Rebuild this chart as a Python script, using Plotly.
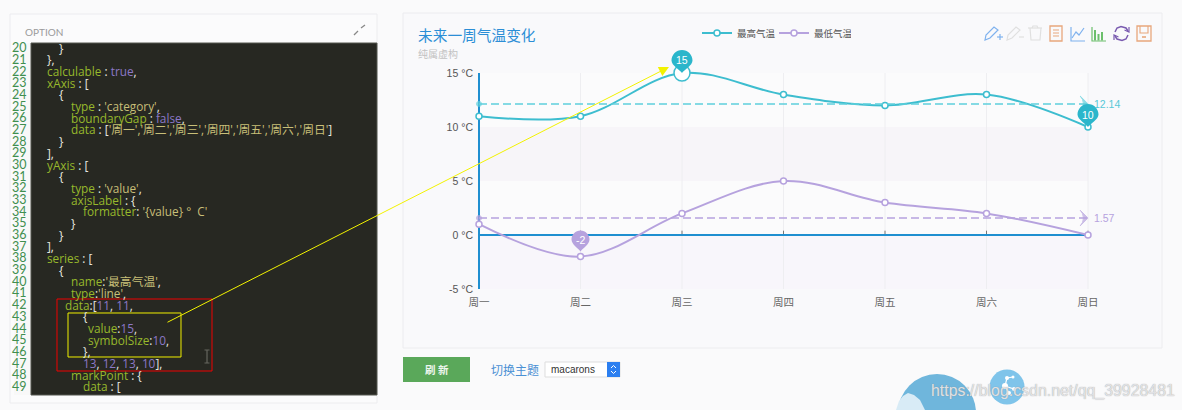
import plotly.graph_objects as go

# dados do grafico
dias = ["周一", "周二", "周三", "周四", "周五", "周六", "周日"]
maxima = [11, 11, 15, 13, 12, 13, 10]
minima = [1, -2, 2, 5, 3, 2, 0]
media_max = 12.14
media_min = 1.57
y_ticks = [-5, 0, 5, 10, 15]

# editor de codigo a esquerda: numero da linha, pedacos (tipo, texto)
code_nums = list(range(20, 50))
code_rows = [
    [("p", "}")],
    [("p", "},")],
    [("k", "calculable"), ("p", " : "), ("n", "true"), ("p", ",")],
    [("k", "xAxis"), ("p", " : [")],
    [("p", "{")],
    [("k", "type"), ("p", " : "), ("s", "'category'"), ("p", ",")],
    [("k", "boundaryGap"), ("p", " : "), ("n", "false"), ("p", ",")],
    [("k", "data"), ("p", " : ["), ("s", "'周一','周二','周三','周四','周五','周六','周日'"), ("p", "]")],
    [("p", "}")],
    [("p", "],")],
    [("k", "yAxis"), ("p", " : [")],
    [("p", "{")],
    [("k", "type"), ("p", " : "), ("s", "'value'"), ("p", ",")],
    [("k", "axisLabel"), ("p", " : {")],
    [("k", "formatter"), ("p", ": "), ("s", "'{value} °  C'")],
    [("p", "}")],
    [("p", "}")],
    [("p", "],")],
    [("k", "series"), ("p", " : [")],
    [("p", "{")],
    [("k", "name"), ("p", ":"), ("s", "'最高气温'"), ("p", ",")],
    [("k", "type"), ("p", ":"), ("s", "'line'"), ("p", ",")],
    [("k", "data"), ("p", ":["), ("n", "11"), ("p", ", "), ("n", "11"), ("p", ",")],
    [("p", "{")],
    [("k", "value"), ("p", ":"), ("n", "15"), ("p", ",")],
    [("k", "symbolSize"), ("p", ":"), ("n", "10"), ("p", ",")],
    [("p", "},")],
    [("n", "13"), ("p", ", "), ("n", "12"), ("p", ", "), ("n", "13"), ("p", ", "), ("n", "10"), ("p", "],")],
    [("k", "markPoint"), ("p", " : {")],
    [("k", "data"), ("p", " : [")],
]
code_x = [58, 46, 46, 46, 58, 70, 70, 70, 58, 46, 46, 58, 70, 70, 82, 70, 58, 46, 46, 58,
          70, 70, 64, 82, 87, 87, 82, 82, 70, 82]
code_cores = {"k": "#97b82c", "s": "#c8bf78", "n": "#8c78c8", "p": "#e8e8e0"}

W, H = 1182, 410
X0, X1 = 479, 1088
Y0, Y1 = 73, 289
PAD_X, PAD_Y = 5, 10  # folga para os marcadores nao serem cortados
TEAL = "#3dbdcf"
TEAL_PIN = "#2bb6cb"
ROXO = "#b6a2de"
AZUL = "#1f8fd0"
CJK = "Noto Sans CJK SC"
passo_x = (X1 - X0) / (len(dias) - 1)
passo_y = (Y1 - Y0) / (y_ticks[-1] - y_ticks[0])


def px(x):
    return x / W


def py(y):
    return 1 - y / H


shapes = []
annots = []


def retangulo(x0, y0, x1, y1, fill="rgba(0,0,0,0)", line="rgba(0,0,0,0)", lw=1):
    shapes.append(dict(type="rect", xref="paper", yref="paper", x0=px(x0), x1=px(x1), y0=py(y0), y1=py(y1),
                       fillcolor=fill, line=dict(color=line, width=lw), layer="below"))


def circulo(cx, cy, r, fill="rgba(0,0,0,0)", line="rgba(0,0,0,0)", lw=1, layer="above"):
    shapes.append(dict(type="circle", xref="paper", yref="paper", x0=px(cx - r), x1=px(cx + r), y0=py(cy - r),
                       y1=py(cy + r), fillcolor=fill, line=dict(color=line, width=lw), layer=layer))


def traco(pontos, cor, lw=1.2, fechado=False, fill="rgba(0,0,0,0)", layer="above"):
    p = "M" + " L".join(f"{px(x):.5f},{py(y):.5f}" for x, y in pontos)
    if fechado:
        p += " Z"
    shapes.append(dict(type="path", xref="paper", yref="paper", path=p, fillcolor=fill,
                       line=dict(color=cor, width=lw), layer=layer))


def texto(x, y, t, cor, size, anchor="left", family=CJK, **kw):
    annots.append(dict(xref="paper", yref="paper", x=px(x), y=py(y), text=t, showarrow=False, xanchor=anchor,
                       yanchor="middle", font=dict(color=cor, size=size, family=family), borderpad=0, **kw))


def pino(i, valor, r, base, alt, cor):
    # marcador em forma de gota, em pixels a partir do ponto
    # ancorado em paper para nao ser cortado pela area do grafico
    ax = px(X0 + passo_x * i)
    ay = py(Y1 - passo_y * (valor - y_ticks[0]))
    k = r * 0.5523
    h = base + alt
    caminho = (f"M0,{base} C2,{base + 3} {r},{h - 5} {r},{h} C{r},{h + k} {k},{h + r} 0,{h + r} "
               f"C{-k},{h + r} {-r},{h + k} {-r},{h} C{-r},{h - 5} -2,{base + 3} 0,{base} Z")
    shapes.append(dict(type="path", xref="paper", yref="paper", xsizemode="pixel", ysizemode="pixel", xanchor=ax,
                       yanchor=ay, path=caminho, fillcolor=cor, line=dict(width=0), layer="above"))
    annots.append(dict(xref="paper", yref="paper", x=ax, y=ay, text=str(valor), showarrow=False, yshift=h,
                       xanchor="center", yanchor="middle",
                       font=dict(color="white", size=10.5, family="Liberation Sans")))


# paineis de fundo
retangulo(10, 14, 377, 403, "#fbfbfc", "#ececef")
retangulo(14, 43, 31, 395, "#f8f8f8")
retangulo(31, 43, 377, 395, "#272822", "#55564f")
retangulo(403, 13, 1162, 348, "#f9f9fb", "#ececef")

# editor
texto(24, 32, "OPTION", "#9a9a9a", 10, family="Lato")
traco([(354, 35), (358, 31)], "#888", 1.3)
traco([(361, 28), (365, 25)], "#888", 1.3)
for n, linha, x in zip(code_nums, code_rows, code_x):
    y = 47.7 + 11.68 * (n - 20)
    texto(28, y, str(n), "#3f8f4f", 12.5, anchor="right", family="Lato")
    partes = "".join(f'<span style="color:{code_cores[t]}">{s}</span>' for t, s in linha)
    texto(x, y, partes, "#fff", 11.8, family="Open Sans, " + CJK)

# caixas e seta desenhadas por cima do editor
traco([(57, 299), (212, 299), (212, 371), (57, 371)], "#f00000", 1, True)
traco([(68, 313), (181, 313), (181, 357), (68, 357)], "#f0f000", 1, True)
traco([(207, 350), (207, 363)], "#66665f", 1.2)
traco([(204.5, 350), (209.5, 350)], "#66665f", 1)
traco([(204.5, 363), (209.5, 363)], "#66665f", 1)
annots.append(dict(xref="paper", yref="paper", x=px(669), y=py(67), axref="pixel", ayref="pixel", ax=166 - 669,
                   ay=323 - 67, text="", showarrow=True, arrowcolor="#f2f200", arrowwidth=1, arrowhead=2,
                   arrowsize=2))

# titulos
texto(417, 35, "未来一周气温变化", "#2b8ed6", 14.7)
texto(417, 53, "纯属虚构", "#c2c2c2", 10)

# faixas alternadas, grade e eixos
faixas = ["#f8f6fb", "#fbfbfc", "#f7f5f9", "#fbfbfc"]
for i, cor in enumerate(faixas):
    shapes.append(dict(type="rect", xref="x", yref="y", x0=dias[0], x1=dias[-1], y0=y_ticks[i], y1=y_ticks[i + 1],
                       fillcolor=cor, line=dict(width=0), layer="below"))
for d in dias[1:]:
    shapes.append(dict(type="line", xref="x", yref="y", x0=d, x1=d, y0=y_ticks[0], y1=y_ticks[-1],
                       line=dict(color="#eeeef1", width=1), layer="below"))
    shapes.append(dict(type="line", xref="x", yref="y", x0=d, x1=d, y0=0, y1=0.4,
                       line=dict(color="#777", width=1), layer="below"))
shapes.append(dict(type="line", xref="x", yref="y", x0=dias[0], x1=dias[0], y0=y_ticks[0], y1=y_ticks[-1],
                   line=dict(color=AZUL, width=2), layer="below"))
shapes.append(dict(type="line", xref="x", yref="y", x0=dias[0], x1=dias[-1], y0=0, y1=0,
                   line=dict(color=AZUL, width=2), layer="below"))

pino(2, maxima[2], 10.5, 0, 12.5, TEAL_PIN)
pino(6, maxima[6], 10.5, 0, 12.5, TEAL_PIN)
pino(1, minima[1], 9, 5, 12, ROXO)

# barra de ferramentas
AZ_ICO, CINZA, LAR, VERDE, LILAS = "#7fb2ee", "#e0e0e0", "#e8a77c", "#6cbf6c", "#7a5bb0"
traco([(985, 40), (986, 35), (994, 27), (998, 30), (990, 38)], AZ_ICO, 1.2, True)
traco([(997, 37), (1003, 37)], AZ_ICO, 1.2)
traco([(1000, 34), (1000, 40)], AZ_ICO, 1.2)
traco([(1007, 40), (1008, 35), (1016, 27), (1020, 30), (1012, 38)], CINZA, 1.2, True)
traco([(1019, 37), (1024, 37)], CINZA, 1.2)
traco([(1028, 28), (1042, 28)], CINZA, 1.2)
traco([(1032, 28), (1033, 26), (1037, 26), (1038, 28)], CINZA, 1.2)
traco([(1030, 28), (1031, 40), (1040, 40), (1041, 28)], CINZA, 1.2)
traco([(1050, 26), (1062, 26), (1062, 41), (1050, 41)], LAR, 1.3, True)
for y in [30, 33, 36]:
    traco([(1053, y), (1059, y)], LAR, 1)
traco([(1071, 27), (1071, 41), (1085, 41)], AZ_ICO, 1.2)
traco([(1072, 38), (1076, 32), (1079, 35), (1084, 28)], AZ_ICO, 1.2)
traco([(1092, 27), (1092, 41), (1106, 41)], VERDE, 1.2)
for x, y in [(1095, 30), (1098.5, 34), (1102, 32)]:
    retangulo(x - 1, y, x + 1, 40.5, VERDE)
    shapes[-1]["layer"] = "above"
traco([(1115, 32), (1117, 28), (1121, 26.5), (1126, 28), (1128, 31)], LILAS, 1.5)
traco([(1128, 35), (1126, 39), (1122, 40.5), (1117, 39), (1115, 36)], LILAS, 1.5)
traco([(1124.5, 30), (1129, 32), (1129, 27)], LILAS, 1.2)
traco([(1118.5, 37), (1114, 35), (1114, 40)], LILAS, 1.2)
traco([(1137, 26), (1151, 26), (1151, 41), (1137, 41)], LAR, 1.3, True)
traco([(1140, 26), (1140, 33), (1148, 33), (1148, 26)], LAR, 1.1)
traco([(1142, 37), (1146, 37)], LAR, 1.6)

# controles abaixo do grafico
retangulo(403, 357, 470, 382, "#5aa85a")
texto(436.5, 369, "<b>刷 新</b>", "#eef6ee", 10.5, anchor="center")
texto(490, 369, "切换主题", "#4a90d4", 12)
retangulo(545, 362, 620, 377, "#ffffff", "#dddddd")
retangulo(607, 362, 620, 377, "#2c7ff0")
texto(550, 369.5, "macarons", "#333", 10, family="Liberation Sans")
traco([(611, 368), (613.5, 365.5), (616, 368)], "#ffffff", 1)
traco([(611, 371), (613.5, 373.5), (616, 371)], "#ffffff", 1)

# bolhas do canto inferior
circulo(937, 413, 39, "#6fb6dc", layer="below")
traco([(899, 401), (903, 396), (908, 393), (914, 395), (920, 400), (925, 410), (896, 410)], "#d8ebf6", 0, True,
      "#d8ebf6", layer="below")
circulo(1007, 387, 17.5, "#7fc4ea", layer="below")
traco([(1007, 378), (1005, 386), (1014, 389)], "#ffffff", 1.2, layer="below")
traco([(1005, 386), (1009, 393)], "#ffffff", 1.2, layer="below")
traco([(1007, 378), (1013, 377)], "#ffffff", 1.2, layer="below")
for x, y, r in [(1007, 378, 2), (1005, 386, 3), (1014, 389, 2), (1009, 393, 2), (1013, 377, 1.5)]:
    circulo(x, y, r, "#ffffff", layer="below")
texto(930, 391, "https://blog.csdn.net/qq_39928481", "rgba(235,235,238,0.9)", 15.9, family="Liberation Sans")
annots[-1]["font"]["shadow"] = "0 0 1px #8a8a8a"

fig = go.Figure()
fig.add_trace(go.Scatter(x=dias, y=maxima, name="最高气温", mode="lines+markers",
                         line=dict(color=TEAL, width=2, shape="spline", smoothing=1),
                         marker=dict(size=6, color="white", line=dict(color=TEAL, width=1.5))))
fig.add_trace(go.Scatter(x=dias, y=minima, name="最低气温", mode="lines+markers",
                         line=dict(color=ROXO, width=2, shape="spline", smoothing=1),
                         marker=dict(size=6, color="white", line=dict(color=ROXO, width=1.5))))
# ponto destacado (symbolSize maior)
fig.add_trace(go.Scatter(x=[dias[2]], y=[maxima[2]], mode="markers", showlegend=False,
                         marker=dict(size=16, color="white", line=dict(color=TEAL, width=1.5))))
# linhas de media
for valor, cor, txt_cor in [(media_max, "#5fd0dc", "#58c8d8"), (media_min, ROXO, ROXO)]:
    fig.add_trace(go.Scatter(x=[dias[0], dias[-1]], y=[valor, valor], mode="lines+markers", showlegend=False,
                             line=dict(color=cor, width=1.5, dash="8px,4px"),
                             marker=dict(symbol=["circle", "arrow-wide"], angle=[0, 90], size=[5, 11], color=cor,
                                         line=dict(color=cor, width=1))))
    annots.append(dict(x=dias[-1], y=valor, xref="x", yref="y", text=str(valor), showarrow=False, xanchor="left",
                       xshift=4, yanchor="middle",
                       font=dict(color=txt_cor, size=10.5, family="Liberation Sans")))

fig.update_layout(
    template="none",
    width=W, height=H, autosize=False, margin=dict(l=0, r=0, t=0, b=0, pad=0),
    paper_bgcolor="#fafafb", plot_bgcolor="rgba(0,0,0,0)",
    font=dict(family=CJK),
    shapes=shapes, annotations=annots,
    showlegend=True,
    legend=dict(orientation="h", x=px(697), y=py(33), xanchor="left", yanchor="middle", itemwidth=30,
                entrywidth=32, entrywidthmode="pixels",
                bgcolor="rgba(0,0,0,0)", font=dict(size=9.5, color="#555", family=CJK)),
    xaxis=dict(domain=[px(X0 - PAD_X), px(X1 + PAD_X)], type="category", categoryorder="array", categoryarray=dias,
               range=[-PAD_X / passo_x, len(dias) - 1 + PAD_X / passo_x], automargin=False, showgrid=False,
               showline=False, ticks="outside", ticklen=3, tickcolor="rgba(0,0,0,0)",
               tickfont=dict(size=10.5, color="#666", family=CJK), zeroline=False, fixedrange=True),
    yaxis=dict(domain=[py(Y1), py(Y0 - PAD_Y)], range=[y_ticks[0], y_ticks[-1] + PAD_Y / passo_y], automargin=False,
               tickvals=y_ticks, ticktext=[f"{v} °C" for v in y_ticks],
               tickfont=dict(size=10.5, color="#555", family="Liberation Sans"), showgrid=False,
               showline=False, ticks="", zeroline=False, fixedrange=True),
)

fig.write_html("out.html", config=dict(displayModeBar=False), post_script="document.body.style.margin='0';")
